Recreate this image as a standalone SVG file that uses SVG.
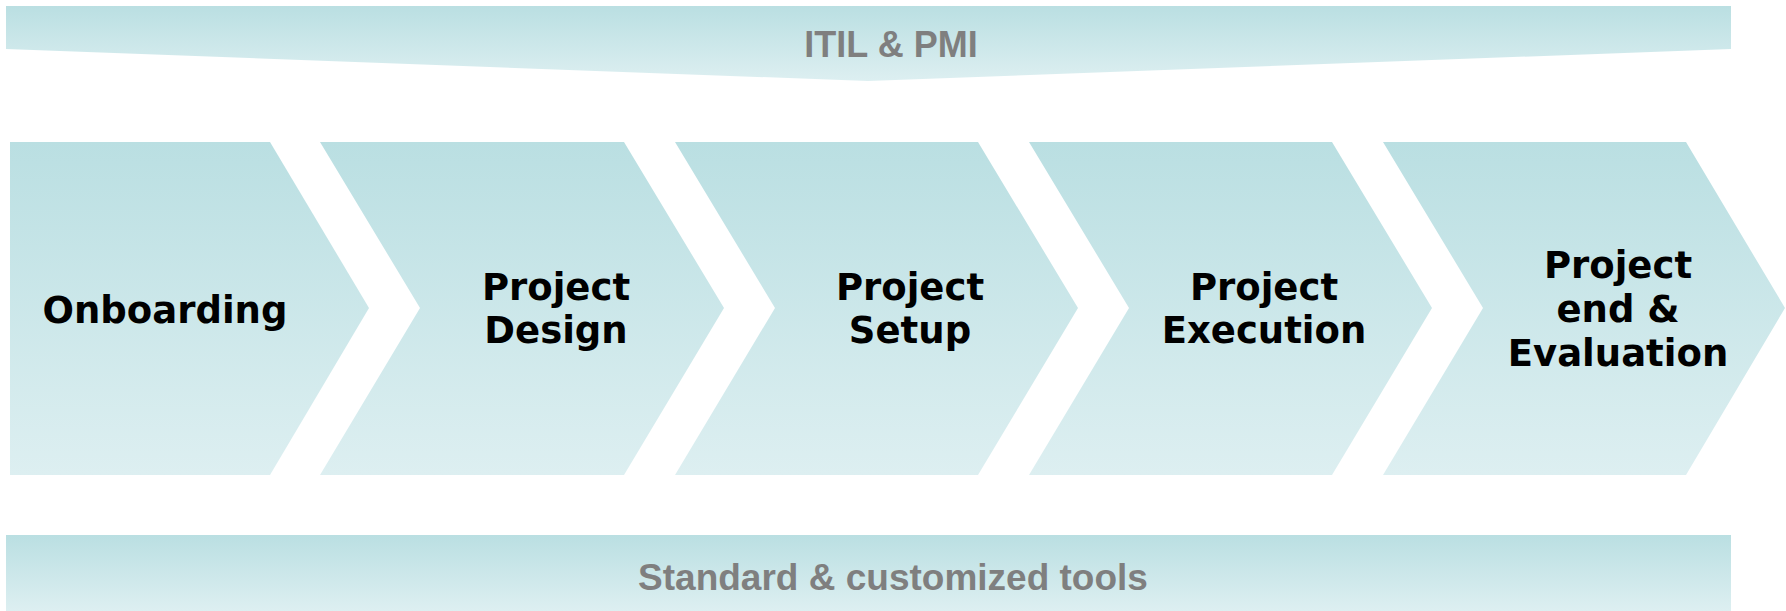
<svg xmlns="http://www.w3.org/2000/svg" width="1786" height="611" viewBox="0 0 1786 611">
<defs>
<linearGradient id="g" x1="0" y1="0" x2="0" y2="1">
<stop offset="0" stop-color="#badfe2"/>
<stop offset="1" stop-color="#ddeff1"/>
</linearGradient>
<style>
.shape{fill:url(#g);stroke:none}
.lbl{font-family:"DejaVu Sans",Verdana,sans-serif;font-weight:bold;font-size:37px;fill:#000;text-anchor:middle}
.band{font-family:"Liberation Sans",Arial,sans-serif;font-weight:bold;font-size:36px;fill:#7f7f7f;text-anchor:middle}
</style>
</defs>
<rect width="1786" height="611" fill="#fff"/>
<g id="itil-pmi">
<polygon class="shape" points="6,6 1731,6 1731,49 868,81 6,49"/>
<text class="band" x="891" y="57">ITIL &amp; PMI</text>
</g>
<g id="onboarding">
<polygon class="shape" points="10,142 270,142 369,308 270,475 10,475"/>
<text class="lbl" x="165" y="323">Onboarding</text>
</g>
<g id="project-design">
<polygon class="shape" points="320,142 624,142 724,308 624,475 320,475 420,308"/>
<text class="lbl" x="556" y="300">Project<tspan x="556" y="343">Design</tspan></text>
</g>
<g id="project-setup">
<polygon class="shape" points="675,142 978,142 1078,308 978,475 675,475 775,308"/>
<text class="lbl" x="910" y="300">Project<tspan x="910" y="343">Setup</tspan></text>
</g>
<g id="project-execution">
<polygon class="shape" points="1029,142 1332,142 1432,308 1332,475 1029,475 1129,308"/>
<text class="lbl" x="1264" y="300">Project<tspan x="1264" y="343">Execution</tspan></text>
</g>
<g id="project-end-evaluation">
<polygon class="shape" points="1383,142 1686,142 1785,308 1686,475 1383,475 1483,308"/>
<text class="lbl" x="1618" y="278">Project<tspan x="1618" y="322">end &amp;</tspan><tspan x="1618" y="366">Evaluation</tspan></text>
</g>
<g id="tools">
<rect class="shape" x="6" y="535" width="1725" height="76"/>
<text class="band" x="893" y="590" style="font-size:37px">Standard &amp; customized tools</text>
</g>
<g id="connectors"></g>
</svg>
